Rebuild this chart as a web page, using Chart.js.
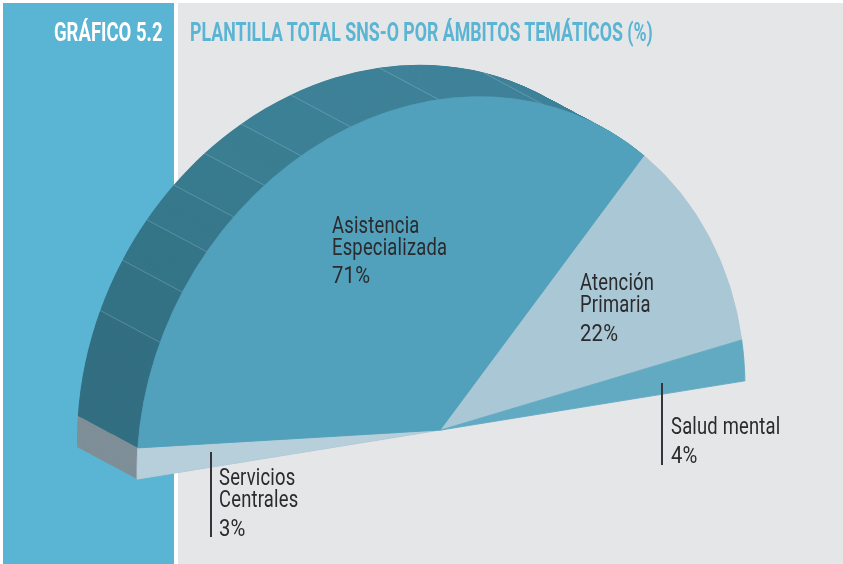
<!DOCTYPE html>
<html lang="es">
<head>
<meta charset="utf-8">
<script src="https://cdn.jsdelivr.net/npm/chart.js@4"></script>
<style>
html,body{margin:0;padding:0;background:#fff;width:843px;height:564px;overflow:hidden}
#stage{position:relative;width:843px;height:564px}
.panel{position:absolute}
canvas{position:absolute;left:0;top:0}
.t{position:absolute;white-space:nowrap;font-family:"Roboto","Liberation Sans",sans-serif;color:#2b2a2c;font-size:23px;line-height:23px;letter-spacing:.25px;transform-origin:0 0;transform:scaleX(.8)}
.pct{transform:scaleX(.88)}
.h{font-weight:700;font-size:25px;line-height:26px;letter-spacing:0}
.rule{position:absolute;width:2px;background:#35363a}
</style>
</head>
<body>
<div id="stage">
  <div class="panel" style="left:3px;top:3px;width:171px;height:561px;background:#5ab4d3"></div>
  <div class="panel" style="left:178px;top:3px;width:665px;height:561px;background:#e5e6e8"></div>
  <canvas id="wall" width="843" height="564"></canvas>
  <canvas id="front" width="843" height="564"></canvas>
  <div class="t h" style="left:54px;top:20px;color:#fff;transform:scaleX(.74)">GRÁFICO 5.2</div>
  <div class="t h" style="left:190px;top:20px;color:#5ab4d3;transform:scaleX(.71)">PLANTILLA TOTAL SNS-O POR ÁMBITOS TEMÁTICOS (%)</div>
  <div id="labels"></div>
  <div class="rule" style="left:661px;top:383px;height:82px"></div>
  <div class="rule" style="left:210px;top:452px;height:85px"></div>
</div>
<script>
// Data
const categories = ['Servicios Centrales', 'Asistencia Especializada', 'Atención Primaria', 'Salud mental'];
const shares = [3, 71, 22, 4];
const sliceColors = ['#b6cfdb', '#51a0bc', '#a9c7d4', '#62a9c2'];
// Side wall: the cut face, then the bands of the outer rim (degrees of the half circle)
const wallBands = [5.4, 18.3, 9.2, 7.9, 7.4, 7.5, 8.1, 10.1, 16.9, 19.9, 22.5];
const wallColors = ['#7f8f98', '#336f82', '#347285', '#357588', '#37788c', '#397b8e', '#3b7e92', '#3d8096', '#3f8298', '#40839a', '#41849b'];
const labelLines = [
  [['Servicios', 219, 466], ['Centrales', 219, 488], ['3%', 219, 517]],
  [['Asistencia', 332, 214], ['Especializada', 332, 236], ['71%', 332, 264]],
  [['Atención', 580, 271], ['Primaria', 580, 293], ['22%', 580, 322]],
  [['Salud mental', 671, 415], ['4%', 671, 444]]
];

const RADIUS = 200;
const START = -122, SPAN = 180;
// Map the library's circular arcs to the tilted, squashed half disc of the picture
const shape = (ctx, arc) => {
  const p = arc.getProps(['x', 'y', 'outerRadius'], true);
  ctx.translate(441, 430);
  ctx.rotate(27 * Math.PI / 180);
  ctx.scale(293 / p.outerRadius, 343 / p.outerRadius);
  ctx.translate(-p.x, -p.y);
};
const base = {
  responsive: false, animation: false, radius: RADIUS, rotation: START,
  layout: { padding: 0 },
  plugins: { legend: { display: false }, tooltip: { enabled: false } }
};

const frontPlugin = {
  id: 'frontShape',
  beforeDatasetsDraw(c) { c.ctx.save(); shape(c.ctx, c.getDatasetMeta(0).data[0]); },
  afterDatasetsDraw(c) { c.ctx.restore(); }
};
const DX = -60, DY = -32, STEPS = 130;
const wallPlugin = {
  id: 'wallSweep',
  beforeDatasetsDraw(c) {
    const ctx = c.ctx, arcs = c.getDatasetMeta(0).data;
    for (let k = STEPS; k >= 0; k--) {
      ctx.save();
      ctx.translate(DX * k / STEPS, DY * k / STEPS);
      shape(ctx, arcs[0]);
      arcs.forEach(a => a.draw(ctx));
      ctx.restore();
    }
    // band separators, running along the extrusion
    ctx.save(); ctx.setTransform(1, 0, 0, 1, 0, 0); shape(ctx, arcs[0]);
    const t = ctx.getTransform(); ctx.restore();
    ctx.save();
    ctx.strokeStyle = 'rgba(170,205,218,.4)';
    ctx.lineWidth = 0.8;
    arcs.slice(2).forEach(a => {
      const p = a.getProps(['x', 'y', 'startAngle', 'outerRadius'], true);
      const q = t.transformPoint(new DOMPoint(p.x + p.outerRadius * Math.cos(p.startAngle), p.y + p.outerRadius * Math.sin(p.startAngle)));
      ctx.beginPath(); ctx.moveTo(q.x, q.y); ctx.lineTo(q.x + DX, q.y + DY); ctx.stroke();
    });
    ctx.restore();
    return false;
  }
};

new Chart(document.getElementById('wall'), {
  type: 'pie',
  data: { labels: wallBands.map((_, i) => 'b' + i), datasets: [{ data: wallBands, backgroundColor: wallColors, borderWidth: 0, clip: false }] },
  options: { ...base, circumference: wallBands.reduce((a, b) => a + b, 0) },
  plugins: [wallPlugin]
});
new Chart(document.getElementById('front'), {
  type: 'pie',
  data: { labels: categories, datasets: [{ data: shares, backgroundColor: sliceColors, borderColor: sliceColors, borderWidth: 0.5, clip: false }] },
  options: { ...base, circumference: SPAN },
  plugins: [frontPlugin]
});

const host = document.getElementById('labels');
labelLines.flat().forEach(([s, x, y]) => {
  const d = document.createElement('div');
  d.className = s.endsWith('%') ? 't pct' : 't';
  d.textContent = s;
  d.style.left = x + 'px'; d.style.top = y + 'px';
  host.appendChild(d);
});
</script>
</body>
</html>
